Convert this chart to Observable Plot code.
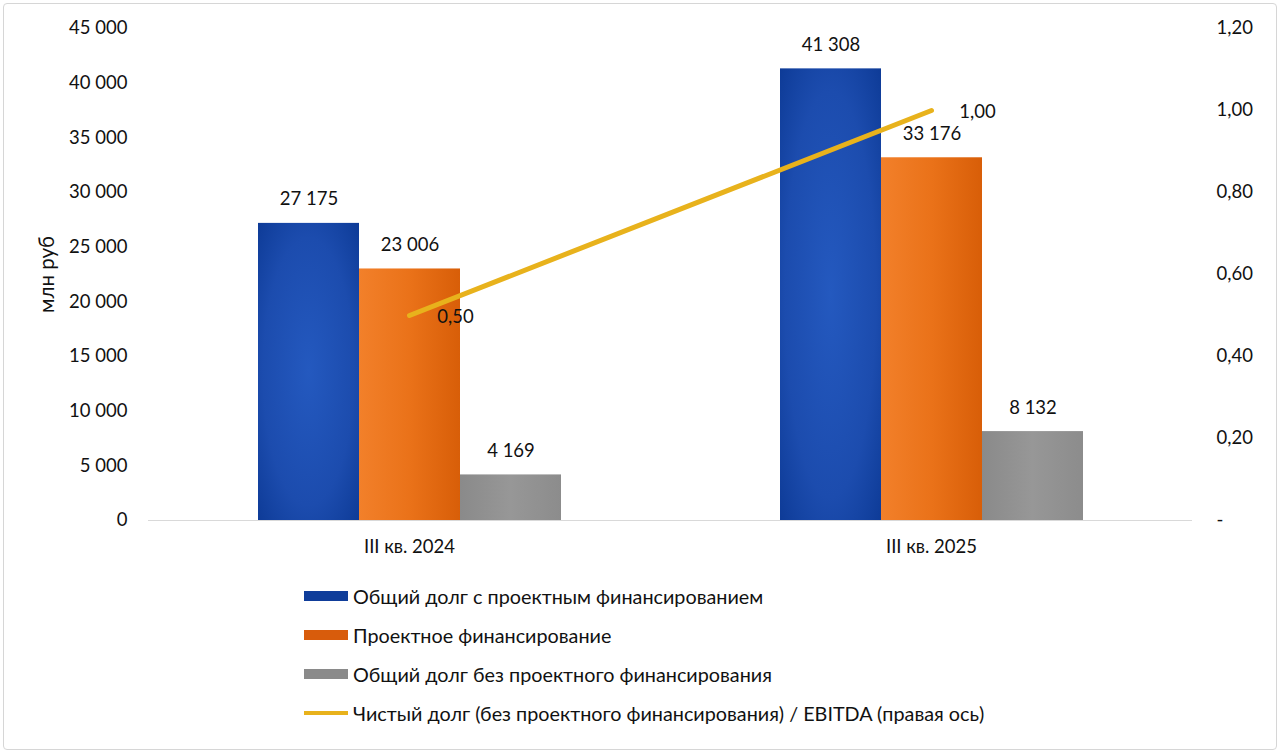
<!DOCTYPE html>
<html><head><meta charset="utf-8">
<script src="https://cdn.jsdelivr.net/npm/d3@7"></script>
<script src="https://cdn.jsdelivr.net/npm/@observablehq/plot@0.6"></script>
<style>
body{margin:0;background:#fff;font-family:Lato,"Noto Sans",sans-serif;}
#frame{position:absolute;left:3px;top:3px;width:1272px;height:745px;border:1px solid #d6d6d6;border-radius:4px;}
#chart{position:absolute;left:0;top:0;width:1280px;height:560px;}
#chart svg{position:absolute;left:0;top:0;}
#legend{position:absolute;left:304px;top:576px;}
.item{display:flex;align-items:center;height:39px;font-size:19.8px;color:#111;}
.sw{width:44px;margin-right:5px;}
</style></head><body>
<div id="frame"></div>
<div id="chart"></div>
<div id="legend"></div>
<script>
const categories = ["III кв. 2024", "III кв. 2025"];
const series = ["Общий долг с проектным финансированием", "Проектное финансирование", "Общий долг без проектного финансирования"];
const totalDebt = [27175, 41308];
const projectFinance = [23006, 33176];
const debtExProject = [4169, 8132];
const ratioName = "Чистый долг (без проектного финансирования) / EBITDA (правая ось)";
const ratio = [0.50, 1.00];
const leftTicks = [0, 5000, 10000, 15000, 20000, 25000, 30000, 35000, 40000, 45000];
const rightTicks = [0, 0.2, 0.4, 0.6, 0.8, 1.0, 1.2];
const yLabel = "млн руб";

const swatchColors = ["#0f3d9a", "#d85c0c", "#8a8a8a", "#e8b21c"];
const barFills = ["url(#gBlue)", "url(#gOrange)", "url(#gGray)"];
const FONT = "Lato, 'Noto Sans', sans-serif";

const fmt = v => d3.format(",")(v).replace(/,/g, " ");
const fmtR = v => v === 0 ? "-" : d3.format(".2f")(v).replace(".", ",");

const values = [totalDebt, projectFinance, debtExProject];
const rows = [];
categories.forEach((c, i) => series.forEach((s, j) => rows.push({cat: c, series: s, value: values[j][i]})));
const ratioRows = categories.map((c, i) => ({cat: c, v: ratio[i]}));

const M = {marginLeft: 148, marginRight: 88, marginTop: 28, marginBottom: 40};
const STYLE = {fontFamily: FONT, fontSize: "18.5px", color: "#111", background: "transparent"};

const bars = Plot.plot({
  width: 1280, height: 560, ...M,
  style: STYLE,
  fx: {domain: categories, padding: 0, label: null, axis: "bottom", tickSize: 0, tickPadding: 19, fontSize: 19},
  x: {domain: series, paddingInner: 0, paddingOuter: 1.084, axis: null},
  y: {domain: [0, 45000], ticks: leftTicks, tickFormat: fmt, tickSize: 0, tickPadding: 21, label: null},
  color: {domain: series, range: barFills},
  marks: [
    Plot.ruleY([0], {stroke: "#d9d9d9", strokeWidth: 1.2}),
    Plot.barY(rows, {fx: "cat", x: "series", y: "value", fill: "series"}),
    Plot.text(rows, {fx: "cat", x: "series", y: "value", text: d => fmt(d.value), dy: -24, fill: "#111"})
  ]
});

const defs = `
<defs>
  <radialGradient id="gBlue" cx="0.5" cy="0.5" r="0.75">
    <stop offset="0" stop-color="#2459bf"/>
    <stop offset="0.6" stop-color="#1c4cae"/>
    <stop offset="1" stop-color="#0b3893"/>
  </radialGradient>
  <linearGradient id="gOrange" x1="0" y1="0" x2="1" y2="0">
    <stop offset="0" stop-color="#f2802a"/>
    <stop offset="0.5" stop-color="#ea7219"/>
    <stop offset="1" stop-color="#d85e08"/>
  </linearGradient>
  <linearGradient id="gGray" x1="0" y1="0" x2="1" y2="0">
    <stop offset="0" stop-color="#8a8a8a"/>
    <stop offset="0.5" stop-color="#979797"/>
    <stop offset="1" stop-color="#8c8c8c"/>
  </linearGradient>
</defs>`;
bars.insertAdjacentHTML("afterbegin", defs);

const line = Plot.plot({
  width: 1280, height: 560, ...M,
  style: STYLE,
  x: {domain: categories, type: "band", padding: 0, axis: null},
  y: {domain: [0, 1.2], ticks: rightTicks, tickFormat: fmtR, axis: "right", tickSize: 0, tickPadding: 24, label: null},
  marks: [
    Plot.line(ratioRows, {x: "cat", y: "v", stroke: "#e8b21c", strokeWidth: 5, strokeLinecap: "round"}),
    Plot.text(ratioRows, {x: "cat", y: "v", text: d => fmtR(d.v), dx: 46, dy: 2, fill: "#111"}),
    Plot.text([yLabel], {frameAnchor: "left", textAnchor: "middle", rotate: -90, dx: -101, fontSize: 20.5, fill: "#111"})
  ]
});

const chart = document.getElementById("chart");
chart.appendChild(bars);
chart.appendChild(line);

const legend = document.getElementById("legend");
const items = [...series, ratioName];
items.forEach((name, i) => {
  const it = document.createElement("div");
  it.className = "item";
  const sw = document.createElement("div");
  sw.className = "sw";
  sw.style.background = swatchColors[i];
  sw.style.height = i === 3 ? "4px" : "10px";
  const t = document.createElement("span");
  t.textContent = name;
  it.appendChild(sw); it.appendChild(t);
  legend.appendChild(it);
});
</script>
</body></html>
